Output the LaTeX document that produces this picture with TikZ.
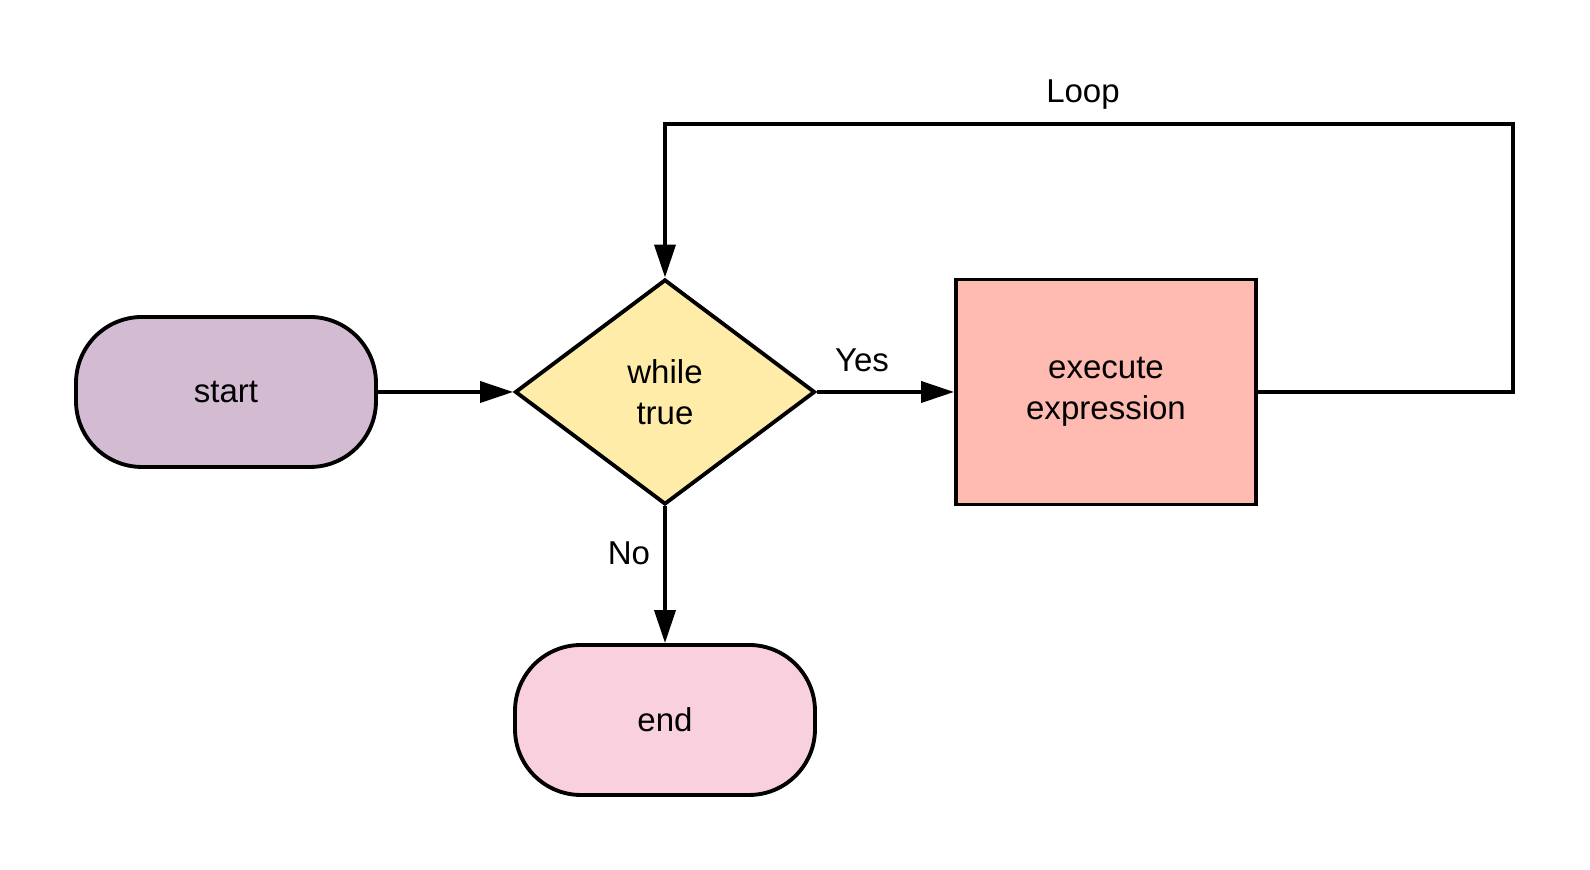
\documentclass[tikz,border=0pt]{standalone}
\usepackage{fontspec}
\setmainfont{Liberation Sans}
\usetikzlibrary{shapes.geometric, arrows.meta}

\definecolor{startfill}{RGB}{211,187,209}
\definecolor{whilefill}{RGB}{254,236,168}
\definecolor{execfill}{RGB}{255,186,178}
\definecolor{endfill}{RGB}{249,209,222}

\tikzset{
  every node/.style={font=\fontsize{9.4}{11.6}\selectfont},
  terminal/.style={draw, line width=1.1pt, rounded corners=0.66cm, minimum width=3cm, minimum height=1.5cm, align=center},
  decision/.style={draw, diamond, line width=1.1pt, minimum width=3cm, minimum height=2.25cm, inner sep=0pt, align=center},
  process/.style={draw, rectangle, line width=1.1pt, minimum width=3cm, minimum height=2.25cm, align=center},
  flow/.style={line width=1.1pt, -{Triangle[length=3.3mm, width=2.1mm]}}
}

\begin{document}
\begin{tikzpicture}
            \useasboundingbox (0,0) rectangle (15.9,8.7);

            \node[terminal, fill=startfill] (start) at (2.26,4.78) {start};
            \node[decision, fill=whilefill] (while) at (6.65,4.78) {while\\true};
            \node[process, fill=execfill] (exec) at (11.06,4.78) {execute\\expression};
            \node[terminal, fill=endfill] (end) at (6.65,1.50) {end};

            \coordinate (loopT) at (15.13,7.46);

            \draw[flow] (start.east) -- (while.west);
            \draw[flow] (while.east) -- (exec.west);
            \draw[flow] (while.south) -- (end.north);
            \draw[flow] (exec.east) -| (loopT) -| (while.north);

            \node (yes) at (8.62,5.10) {Yes};
            \node (no) at (6.29,3.17) {No};
            \node (loop) at (10.83,7.75) {Loop};
        \end{tikzpicture}
\end{document}
